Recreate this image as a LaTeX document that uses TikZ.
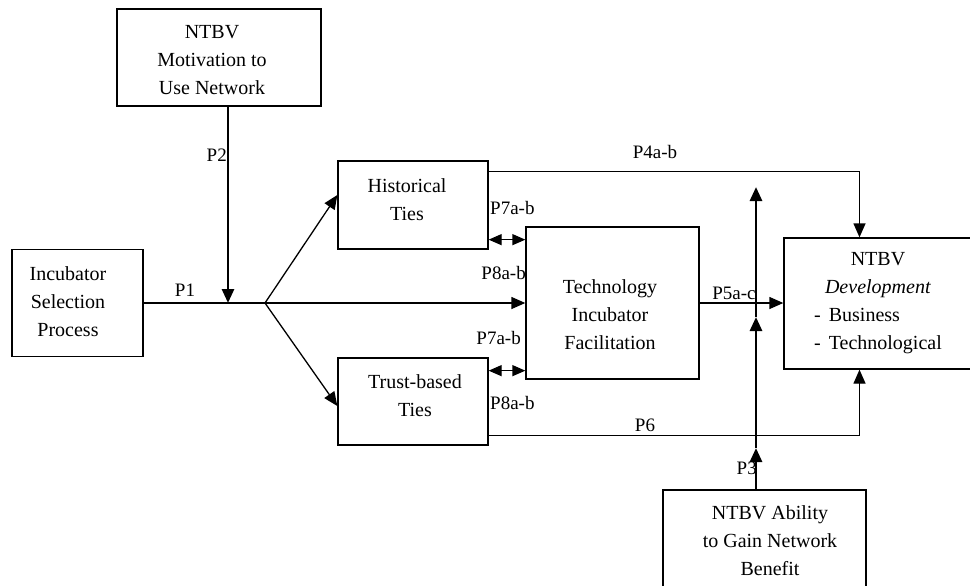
\documentclass[tikz,border=0pt]{standalone}
\usepackage{fontspec}
\setmainfont{Liberation Serif}
\usetikzlibrary{arrows.meta}

\begin{document}
\begin{tikzpicture}[x=1pt, y=-1pt,
			box/.style={shape=rectangle, draw, line width=1.3pt, inner sep=0pt},
			txt/.style={align=center, inner sep=0pt, font=\fontsize{20}{28}\selectfont},
			lbl/.style={inner sep=0pt, font=\fontsize{19}{22}\selectfont},
			arr/.style={line width=1.3pt, -{Triangle[length=14pt, width=12pt]}},
			thickarr/.style={line width=2.8pt, -{Triangle[length=14pt, width=12pt]}},
			dblarr/.style={line width=1.3pt, {Triangle[length=13pt, width=11pt]}-{Triangle[length=13pt, width=11pt]}}]
			\useasboundingbox (0, 0) rectangle (970, 586);
			\node[box, minimum width=204pt, minimum height=97pt](mot) at (219, 57.5){} node[txt](motT) at (212, 60){NTBV\\Motivation to\\Use Network};
			\node[box, minimum width=131pt, minimum height=107pt](isp) at (77.5, 303){} node[txt](ispT) at (68, 302){Incubator\\Selection\\Process};
			\node[box, minimum width=150pt, minimum height=88pt](hist) at (413, 205){} node[txt](histT) at (407, 200){Historical\\Ties};
			\node[box, minimum width=150pt, minimum height=87pt](trust) at (413, 401.5){} node[txt](trustT) at (415, 396){Trust-based\\Ties};
			\node[box, minimum width=173pt, minimum height=152pt](tif) at (612.5, 303){} node[txt](tifT) at (610, 315){Technology\\Incubator\\Facilitation};
			\node[box, minimum width=189pt, minimum height=131pt](dev) at (878.5, 303.5){} node[txt](devT) at (878, 305){NTBV\\\textit{Development}\\\begin{tabular}[t]{@{}l@{}}-\hspace{8pt}Business\\-\hspace{8pt}Technological\end{tabular}};
			\node[box, minimum width=203pt, minimum height=102pt](abil) at (764.5, 541){} node[txt](abilT) at (770, 541){NTBV Ability\\to Gain Network\\Benefit};
			% junctions
			\coordinate (fork) at (265, 303);
			\coordinate (p2end) at (228, 303);
			\coordinate (p3a) at (756, 448);
			\coordinate (p3b) at (756, 317);
			\coordinate (p3c) at (756, 187);
			% labels
			\node[lbl](lP1) at (185, 290){P1};
			\node[lbl, anchor=east](lP2) at (227, 155){P2};
			\node[lbl, anchor=east](lP3) at (757, 468){P3};
			\node[lbl](lP4) at (655, 152){P4a-b};
			\node[lbl](lP5) at (734, 293){P5a-c};
			\node[lbl](lP6) at (645, 425){P6};
			\node[lbl, anchor=west](lP7a) at (490, 208){P7a-b};
			\node[lbl, anchor=east](lP8a) at (526, 273){P8a-b};
			\node[lbl, anchor=east](lP7b) at (521, 338){P7a-b};
			\node[lbl, anchor=west](lP8b) at (490, 403){P8a-b};
			% connectors
			\draw[line width=1.3pt] (isp.east |- fork) -- (fork);
			\draw[arr] (fork) -- (fork -| tif.west);
			\draw[arr] (fork) -- ([yshift=10pt]hist.west);
			\draw[arr] (fork) -- ([yshift=-4.5pt]trust.west);
			\draw[thickarr] (p2end |- mot.south) -- (p2end);
			\draw[dblarr] ([yshift=10pt]hist.south east) -- ([yshift=10pt]hist.south east -| tif.west);
			\draw[dblarr] ([yshift=9pt]tif.south west -| trust.east) -- ([yshift=9pt]tif.south west);
			\draw[arr] ([yshift=-11pt]hist.north east) -| ([xshift=-19pt]dev.north);
			\draw[arr] ([yshift=10pt]trust.south east) -| ([xshift=-19pt]dev.south);
			\draw[arr] (tif.east) -- (tif.east -| dev.west);
			\draw[thickarr] (p3a |- abil.north) -- (p3a);
			\draw[thickarr] (p3a) -- (p3b);
			\draw[thickarr] (p3b) -- (p3c);
		\end{tikzpicture}
\end{document}
